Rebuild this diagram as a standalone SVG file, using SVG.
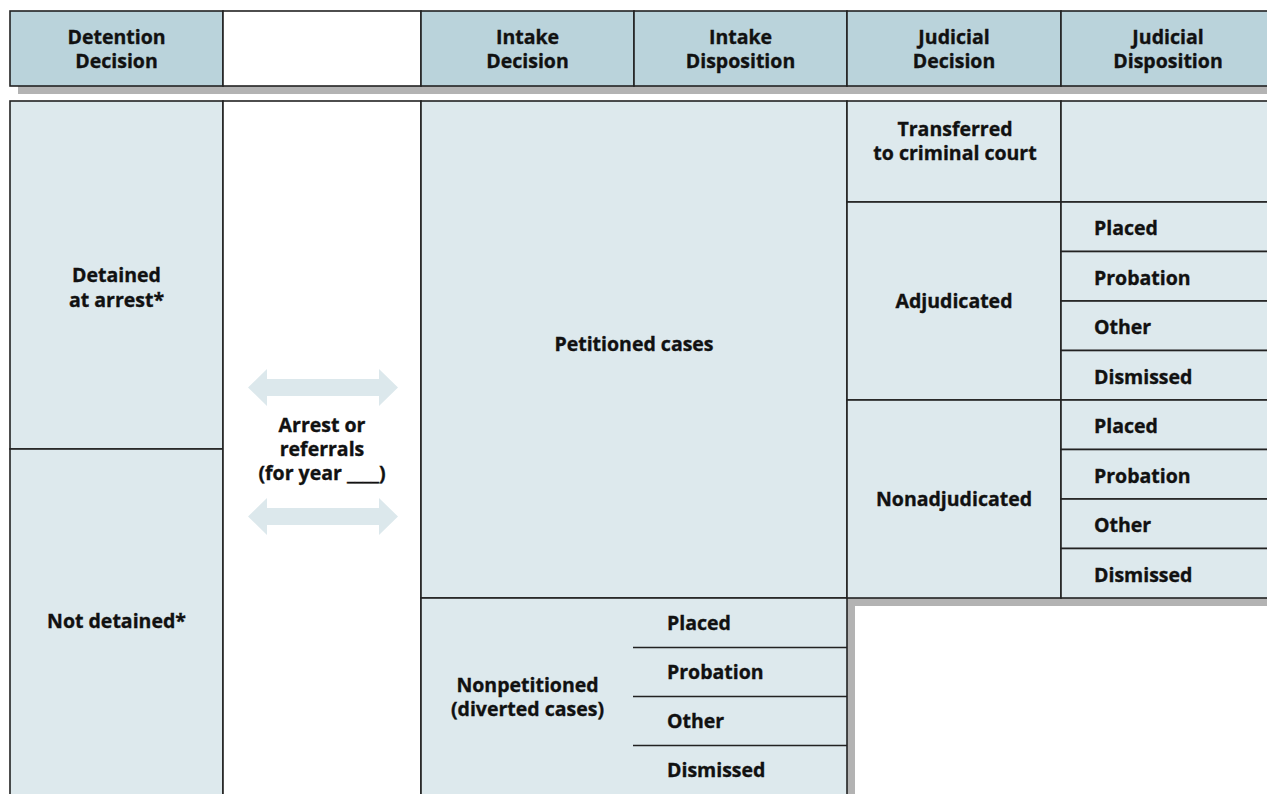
<svg xmlns="http://www.w3.org/2000/svg" width="1267" height="794" viewBox="0 0 1267 794">
<style>
.hd{fill:#bad3db;stroke:#222;stroke-width:1.6}
.cell{fill:#dde9ed;stroke:#222;stroke-width:1.6}
.wh{fill:#ffffff;stroke:#222;stroke-width:1.6}
.ln{stroke:#222;stroke-width:1.6;fill:none}
.sh{fill:#b3b3b3}
.arr{fill:#dce8ec}
text{font-family:"Open Sans","Liberation Sans",sans-serif;font-weight:700;font-size:19.5px;fill:#111;stroke:#111;stroke-width:0.35}
.c{text-anchor:middle}
</style>
<rect width="1267" height="794" fill="#ffffff"/>
<g id="shadows">
<rect class="sh" x="18" y="86" width="1257" height="8"/>
<rect class="sh" x="847" y="598" width="428" height="8"/>
<rect class="sh" x="847" y="598" width="8" height="200"/>
</g>
<g id="header">
<rect class="hd" x="10" y="11" width="213" height="75"/>
<rect class="wh" x="223" y="11" width="198" height="75"/>
<rect class="hd" x="421" y="11" width="213" height="75"/>
<rect class="hd" x="634" y="11" width="213" height="75"/>
<rect class="hd" x="847" y="11" width="214" height="75"/>
<rect class="hd" x="1061" y="11" width="214" height="75"/>
<text class="c" x="116.5" y="44">Detention</text><text class="c" x="116.5" y="68">Decision</text>
<text class="c" x="527.5" y="44">Intake</text><text class="c" x="527.5" y="68">Decision</text>
<text class="c" x="740.5" y="44">Intake</text><text class="c" x="740.5" y="68">Disposition</text>
<text class="c" x="954" y="44">Judicial</text><text class="c" x="954" y="68">Decision</text>
<text class="c" x="1168" y="44">Judicial</text><text class="c" x="1168" y="68">Disposition</text>
</g>
<g id="detained">
<rect class="cell" x="10" y="101" width="213" height="348"/>
<text class="c" x="116.5" y="282">Detained</text><text class="c" x="116.5" y="307">at arrest*</text>
</g>
<g id="not-detained">
<rect class="cell" x="10" y="449" width="213" height="355"/>
<text class="c" x="116.5" y="628">Not detained*</text>
</g>
<g id="arrest">
<rect class="wh" x="223" y="101" width="198" height="703"/>
<text class="c" x="322" y="432">Arrest or</text><text class="c" x="322" y="456">referrals</text><text class="c" x="322" y="480">(for year ____)</text>
</g>
<g id="petitioned">
<rect class="cell" x="421" y="101" width="426" height="497"/>
<text class="c" x="634" y="351">Petitioned cases</text>
</g>
<g id="nonpetitioned">
<rect class="cell" x="421" y="598" width="426" height="206"/>
<text class="c" x="527.5" y="692">Nonpetitioned</text><text class="c" x="527.5" y="716">(diverted cases)</text>
<line class="ln" x1="633" y1="647.5" x2="847" y2="647.5"/>
<line class="ln" x1="633" y1="696.5" x2="847" y2="696.5"/>
<line class="ln" x1="633" y1="745.5" x2="847" y2="745.5"/>
<text x="667" y="630">Placed</text><text x="667" y="679">Probation</text><text x="667" y="728">Other</text><text x="667" y="777">Dismissed</text>
</g>
<g id="transferred">
<rect class="cell" x="847" y="101" width="214" height="101"/>
<rect class="cell" x="1061" y="101" width="214" height="101"/>
<text class="c" x="955" y="136">Transferred</text><text class="c" x="955" y="160">to criminal court</text>
</g>
<g id="adjudicated">
<rect class="cell" x="847" y="202" width="214" height="198"/>
<text class="c" x="954" y="308">Adjudicated</text>
<rect class="cell" x="1061" y="202" width="214" height="49.5"/>
<rect class="cell" x="1061" y="251.5" width="214" height="49.5"/>
<rect class="cell" x="1061" y="301" width="214" height="49.5"/>
<rect class="cell" x="1061" y="350.5" width="214" height="49.5"/>
<text x="1094" y="235">Placed</text><text x="1094" y="284.5">Probation</text><text x="1094" y="334">Other</text><text x="1094" y="383.5">Dismissed</text>
</g>
<g id="nonadjudicated">
<rect class="cell" x="847" y="400" width="214" height="198"/>
<text class="c" x="954" y="506">Nonadjudicated</text>
<rect class="cell" x="1061" y="400" width="214" height="49.5"/>
<rect class="cell" x="1061" y="449.5" width="214" height="49.5"/>
<rect class="cell" x="1061" y="499" width="214" height="49.5"/>
<rect class="cell" x="1061" y="548.5" width="214" height="49.5"/>
<text x="1094" y="433">Placed</text><text x="1094" y="482.5">Probation</text><text x="1094" y="532">Other</text><text x="1094" y="581.5">Dismissed</text>
</g>
<g id="connectors">
<polygon class="arr" points="248,387.5 267,369 267,379 379,379 379,369 398,387.5 379,406 379,396 267,396 267,406"/>
<polygon class="arr" points="248,516.5 267,498 267,508 379,508 379,498 398,516.5 379,535 379,525 267,525 267,535"/>
</g>
</svg>
